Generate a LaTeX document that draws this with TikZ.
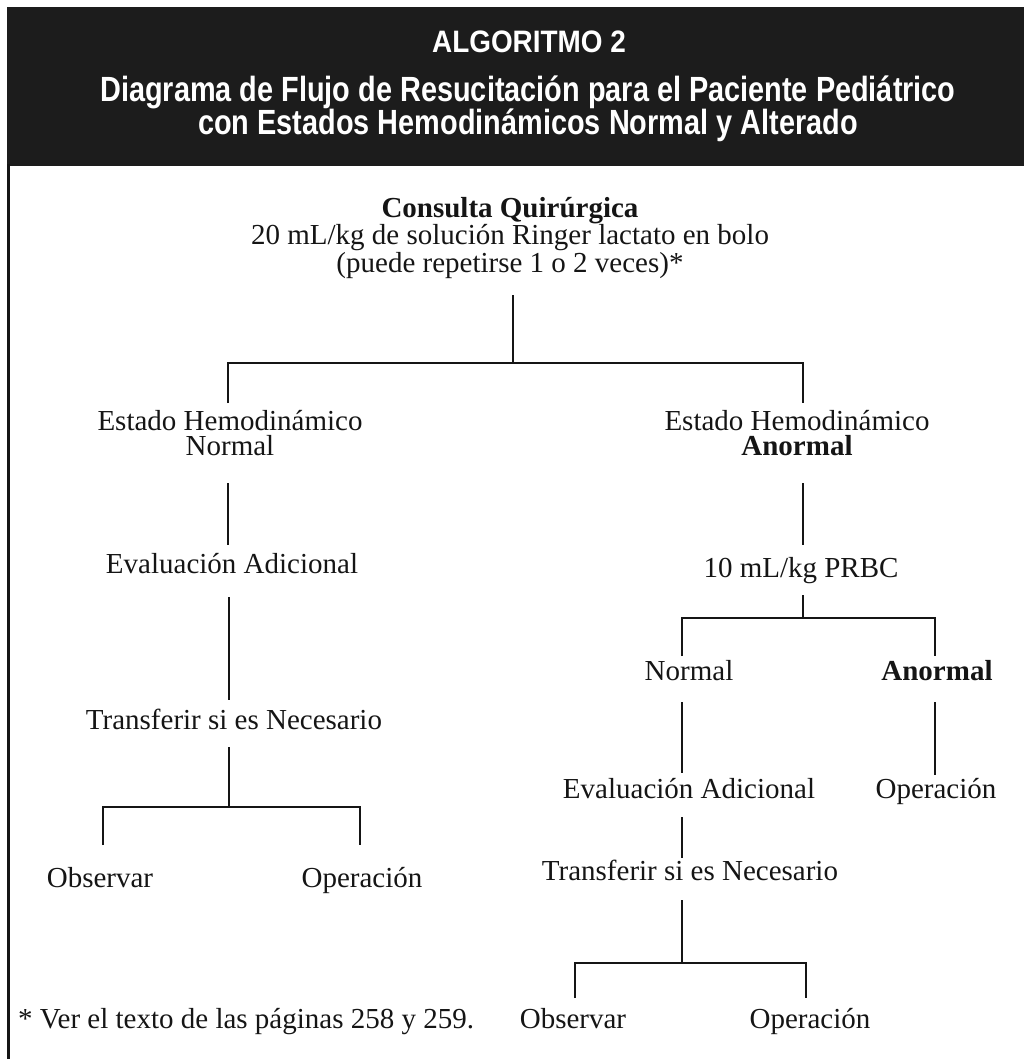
\documentclass[tikz,border=0pt]{standalone}
\usepackage{fontspec}
\setmainfont{Liberation Serif}
\newfontfamily\headfont{Liberation Sans}[FakeStretch=0.9]
\newfontfamily\headfontnarrow{Liberation Sans}[FakeStretch=0.825]

\definecolor{bandgray}{HTML}{1C1C1C}
\definecolor{ink}{HTML}{151515}

\tikzset{
  txt/.style={inner sep=0pt, anchor=base, align=center, text=ink,
              font=\fontsize{29}{24.5}\selectfont},
  hdr/.style={inner sep=0pt, anchor=base, text=white,
              font=\headfont\bfseries\fontsize{31}{31}\selectfont},
  subhdr/.style={inner sep=0pt, anchor=base, text=white,
              font=\headfontnarrow\bfseries\fontsize{35}{35}\selectfont},
  conn/.style={draw=ink, line width=2.6pt},
}

\begin{document}
\begin{tikzpicture}[x=1pt, y=-1pt]
\useasboundingbox (0,0) rectangle (1024,1059);

% title band and left frame rule
\fill[bandgray] (7,7) rectangle (1024,166);
\draw[ink, line width=2.6pt] (8.5,164) -- (8.5,1059);

\node[hdr]    (h1) at (529,53)  {ALGORITMO 2};
\node[subhdr] (h2) at (528,102) {Diagrama de Flujo de Resucitación para el Paciente Pediátrico};
\node[subhdr] (h3) at (528,135) {con Estados Hemodinámicos Normal y Alterado};

% first step (base anchor sits on the last line)
\node[txt] (top) at (510,272) {\textbf{Consulta Quirúrgica}\\20 mL/kg de solución Ringer lactato en bolo\\(puede repetirse 1 o 2 veces)*};
\coordinate (j1) at (513,363);

% left branch: normal state
\node[txt] (ehn) at (230,455) {Estado Hemodinámico\\Normal};
\node[txt] (ev1) at (232,573) {Evaluación Adicional};
\node[txt] (tr1) at (234,729) {Transferir si es Necesario};
\coordinate (j2) at (229,807);
\node[txt] (ob1) at (100,887) {Observar};
\node[txt] (op1) at (362,887) {Operación};

% right branch: abnormal state
\node[txt] (eha) at (797,455) {Estado Hemodinámico\\\textbf{Anormal}};
\node[txt] (prbc) at (801,577) {10 mL/kg PRBC};
\coordinate (j3) at (803,618);
\node[txt] (nr) at (689,680) {Normal};
\node[txt] (ar) at (937,680) {\textbf{Anormal}};
\node[txt] (ev2) at (689,798) {Evaluación Adicional};
\node[txt] (op2) at (936,798) {Operación};
\node[txt] (tr2) at (690,880) {Transferir si es Necesario};
\coordinate (j4) at (682,963);
\node[txt] (ob2) at (573,1028) {Observar};
\node[txt] (op3) at (810,1028) {Operación};

% footnote
\node[txt, anchor=base west] (fn) at (18,1028) {* Ver el texto de las páginas 258 y 259.};

% connectors
\draw[conn] (top.base) ++(3,23) -- (j1);
\draw[conn] ([shift={(-2,-52)}]ehn.base) |- (j1) -| ([shift={(6,-52)}]eha.base);

\draw[conn] ([shift={(-2,28)}]ehn.base) -- ([shift={(-4,-28)}]ev1.base);
\draw[conn] ([shift={(-3,24)}]ev1.base) -- ([shift={(-5,-29)}]tr1.base);
\draw[conn] ([shift={(-5,18)}]tr1.base) -- (j2);
\draw[conn] ([shift={(3,-42)}]ob1.base) |- (j2) -| ([shift={(-2,-42)}]op1.base);

\draw[conn] ([shift={(6,28)}]eha.base) -- ([shift={(2,-32)}]prbc.base);
\draw[conn] ([shift={(2,18)}]prbc.base) -- (j3);
\draw[conn] ([shift={(-7,-24)}]nr.base) |- (j3) -| ([shift={(-2,-24)}]ar.base);
\draw[conn] ([shift={(-7,22)}]nr.base) -- ([shift={(-7,-25)}]ev2.base);
\draw[conn] ([shift={(-2,22)}]ar.base) -- ([shift={(-1,-23)}]op2.base);
\draw[conn] ([shift={(-7,19)}]ev2.base) -- ([shift={(-8,-22)}]tr2.base);
\draw[conn] ([shift={(-8,20)}]tr2.base) -- (j4);
\draw[conn] ([shift={(2,-30)}]ob2.base) |- (j4) -| ([shift={(-4,-30)}]op3.base);
\end{tikzpicture}
\end{document}
